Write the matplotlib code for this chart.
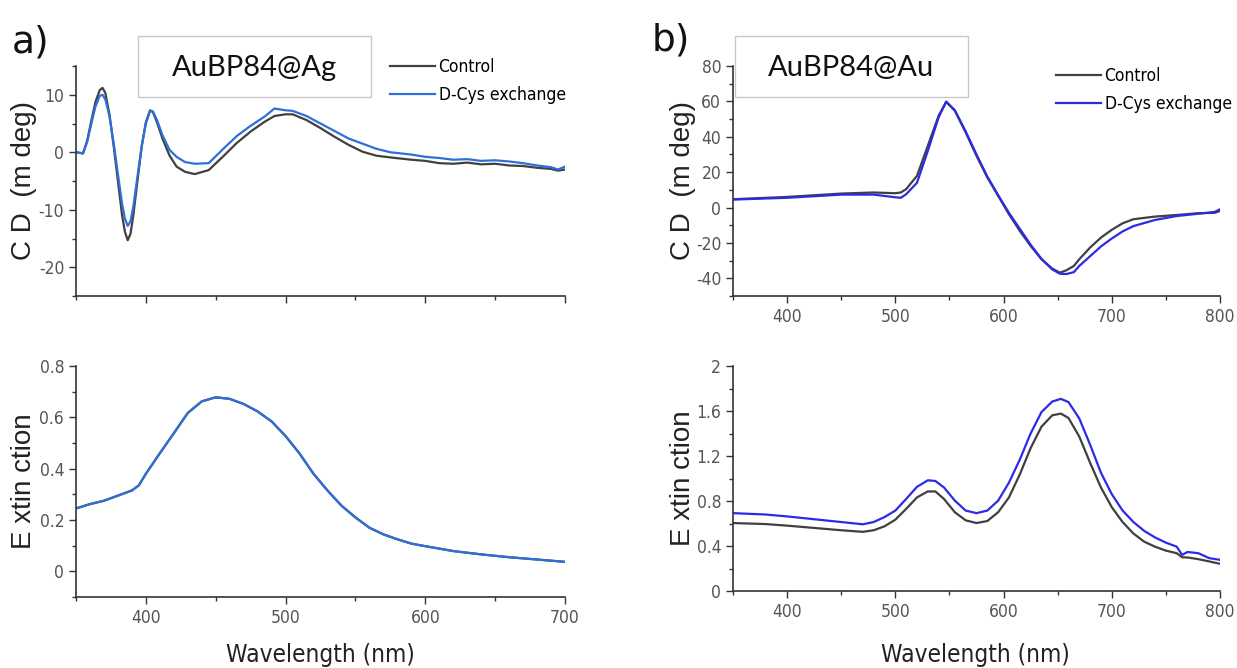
import matplotlib
matplotlib.use("Agg")
import matplotlib.pyplot as plt
from matplotlib.patches import Rectangle
from matplotlib.ticker import AutoMinorLocator

plt.rcParams["axes.unicode_minus"] = False

# ---- data ----
# a) AuBP84@Ag  CD
wl_ag_cd = [350, 355, 358, 361, 364, 367, 369, 371, 374, 377, 380, 383, 385, 387, 389, 391,
            394, 397, 400, 403, 405, 408, 412, 417, 422, 428, 435, 445, 455, 465, 475, 485,
            492, 500, 505, 515, 525, 535, 545, 555, 565, 575, 590, 600, 610, 620, 630, 640,
            650, 660, 670, 680, 690, 695, 700]
cd_ag_control = [0, -0.2, 2.0, 5.5, 8.8, 10.8, 11.2, 10.3, 6.5, 1.0, -5.0, -11.0, -13.8, -15.3,
                 -14.2, -11.0, -5.0, 1.0, 5.2, 7.3, 7.0, 5.2, 2.3, -0.6, -2.5, -3.4, -3.8, -3.1,
                 -0.8, 1.6, 3.6, 5.3, 6.3, 6.6, 6.6, 5.6, 4.2, 2.7, 1.3, 0.1, -0.6, -0.9, -1.3,
                 -1.5, -1.9, -2.0, -1.8, -2.1, -2.0, -2.3, -2.4, -2.7, -2.9, -3.2, -3.0]
cd_ag_dcys = [0, -0.2, 1.8, 5.0, 8.0, 9.8, 10.0, 9.2, 6.2, 1.5, -3.8, -9.0, -11.5, -12.8,
              -12.0, -9.5, -4.2, 1.0, 5.0, 7.2, 7.1, 5.6, 2.9, 0.4, -0.8, -1.7, -2.0, -1.9,
              0.5, 2.8, 4.6, 6.2, 7.6, 7.3, 7.2, 6.3, 5.0, 3.7, 2.4, 1.5, 0.6, 0.0, -0.4,
              -0.8, -1.0, -1.3, -1.2, -1.5, -1.4, -1.6, -1.9, -2.3, -2.6, -3.0, -2.5]

# a) AuBP84@Ag  extinction
wl_ag_ext = [350, 360, 370, 380, 390, 395, 400, 410, 420, 430, 440, 450, 460, 470, 480,
             490, 500, 510, 520, 530, 540, 550, 560, 570, 580, 590, 600, 620, 640, 660,
             680, 700]
ext_ag_control = [0.245, 0.262, 0.275, 0.295, 0.315, 0.335, 0.38, 0.46, 0.538, 0.617, 0.662,
                  0.678, 0.672, 0.652, 0.623, 0.584, 0.527, 0.459, 0.38, 0.315, 0.256, 0.21,
                  0.17, 0.144, 0.125, 0.108, 0.098, 0.079, 0.066, 0.055, 0.046, 0.037]
ext_ag_dcys = [0.245, 0.262, 0.275, 0.295, 0.315, 0.335, 0.38, 0.46, 0.538, 0.617, 0.662,
               0.678, 0.672, 0.652, 0.623, 0.584, 0.527, 0.459, 0.38, 0.315, 0.256, 0.21,
               0.17, 0.144, 0.125, 0.108, 0.098, 0.079, 0.066, 0.055, 0.046, 0.037]

# b) AuBP84@Au  CD
wl_au_cd = [350, 400, 450, 480, 500, 505, 510, 520, 530, 540, 547, 555, 565, 575, 585,
            595, 605, 615, 625, 635, 645, 652, 658, 665, 670, 680, 690, 700, 710, 720,
            740, 760, 780, 795, 800]
cd_au_control = [4.7, 6.0, 7.9, 8.5, 8.1, 8.5, 10.4, 17.9, 34.9, 51.9, 59.8, 54.7, 42.5, 29.2, 17.0,
                 6.6, -3.8, -13.2, -21.7, -29.2, -34.5, -36.8, -35.5, -33.0, -29.2, -22.6, -17.0,
                 -12.6, -8.9, -6.6, -5.1, -4.2, -3.2, -3.0, -1.9]
cd_au_dcys = [4.5, 5.5, 7.3, 7.3, 5.8, 5.5, 7.5, 14.0, 32.0, 51.0, 59.8, 55.0, 43.0, 30.0, 17.5,
              7.0, -3.0, -12.0, -21.0, -29.0, -35.0, -37.4, -37.6, -36.5, -33.0, -27.5, -22.0,
              -17.5, -13.5, -10.5, -7.0, -4.8, -3.5, -2.5, -1.0]

# b) AuBP84@Au  extinction
wl_au_ext = [350, 380, 400, 450, 470, 480, 490, 500, 510, 520, 530, 537, 545, 555, 565,
             575, 585, 595, 605, 615, 625, 635, 645, 653, 660, 670, 680, 690, 700, 710,
             720, 730, 740, 750, 760, 765, 770, 780, 790, 800]
ext_au_control = [0.604, 0.595, 0.581, 0.540, 0.526, 0.540, 0.575, 0.634, 0.73, 0.832, 0.885,
                  0.885, 0.818, 0.70, 0.628, 0.604, 0.622, 0.70, 0.832, 1.036, 1.27, 1.46,
                  1.562, 1.577, 1.538, 1.372, 1.139, 0.92, 0.745, 0.613, 0.511, 0.438, 0.394,
                  0.359, 0.336, 0.30, 0.298, 0.283, 0.263, 0.242]
ext_au_dcys = [0.692, 0.68, 0.663, 0.613, 0.593, 0.613, 0.657, 0.715, 0.818, 0.926, 0.984,
               0.978, 0.92, 0.803, 0.715, 0.692, 0.715, 0.803, 0.964, 1.168, 1.40, 1.59,
               1.684, 1.708, 1.679, 1.533, 1.30, 1.051, 0.861, 0.715, 0.613, 0.534, 0.476,
               0.43, 0.394, 0.321, 0.347, 0.336, 0.292, 0.277]

legend_labels = ["Control", "D-Cys exchange"]
panel_titles = ["AuBP84@Ag", "AuBP84@Au"]

narrow = dict(family="DejaVu Sans", stretch="condensed")
gray = "#404040"
blue_ag = "#2f6fd8"
blue_au = "#2b2be6"
tick_col = "#555555"

fig = plt.figure(figsize=(12.37, 6.68), dpi=100)
W, H = 1237, 668


def px_axes(left, top, right, bottom):
    return fig.add_axes([left / W, 1 - bottom / H, (right - left) / W, (bottom - top) / H])


def style(ax, xlim, ylim, yticks, xticks):
    ax.set_xlim(*xlim)
    ax.set_ylim(*ylim)
    for s in ["top", "right"]:
        ax.spines[s].set_visible(False)
    for s in ["left", "bottom"]:
        ax.spines[s].set_color("#333333")
        ax.spines[s].set_linewidth(1.2)
    ax.set_xticks(xticks)
    ax.set_yticks(yticks)
    ax.set_yticklabels(["%g" % v for v in yticks], **narrow)
    ax.set_xticklabels(["%g" % v for v in xticks], **narrow)
    ax.xaxis.set_minor_locator(AutoMinorLocator(2))
    ax.yaxis.set_minor_locator(AutoMinorLocator(2))
    ax.tick_params(which="major", direction="out", length=5, width=1, color="#333333",
                   labelsize=12.5, labelcolor=tick_col)
    ax.tick_params(which="minor", direction="out", length=3, width=1, color="#333333")


ylab_kw = dict(fontsize=20, color="#222222", family="Liberation Sans")
leg_kw = dict(frameon=False, borderpad=0, borderaxespad=0, handlelength=2.6, handletextpad=0.2,
              labelspacing=0.6, prop={"family": "DejaVu Sans", "stretch": "condensed", "size": 12.5})

# a) top
ax1 = px_axes(76, 66, 565, 296)
ax1.plot(wl_ag_cd, cd_ag_control, color=gray, lw=1.6, label=legend_labels[0])
ax1.plot(wl_ag_cd, cd_ag_dcys, color=blue_ag, lw=1.6, label=legend_labels[1])
style(ax1, (350, 700), (-25, 15), [-20, -10, 0, 10], [400, 500, 600, 700])
ax1.set_xticklabels([])
ax1.set_ylabel("C D  (m deg)", **ylab_kw)
ax1.yaxis.set_label_coords(-0.08, 0.5)
ax1.legend(loc="upper left", bbox_to_anchor=(390 / W, 1 - 58 / H), bbox_transform=fig.transFigure,
           **leg_kw)

# a) bottom
ax2 = px_axes(76, 366, 565, 597)
ax2.plot(wl_ag_ext, ext_ag_control, color=gray, lw=1.6)
ax2.plot(wl_ag_ext, ext_ag_dcys, color=blue_ag, lw=1.6)
style(ax2, (350, 700), (-0.1, 0.8), [0, 0.2, 0.4, 0.6, 0.8], [400, 500, 600, 700])
ax2.set_ylabel("E xtin ction", **ylab_kw)
ax2.yaxis.set_label_coords(-0.08, 0.5)

# b) top
ax3 = px_axes(733, 66, 1220, 296)
ax3.plot(wl_au_cd, cd_au_control, color=gray, lw=1.6, label=legend_labels[0])
ax3.plot(wl_au_cd, cd_au_dcys, color=blue_au, lw=1.6, label=legend_labels[1])
style(ax3, (350, 800), (-50, 80), [-40, -20, 0, 20, 40, 60, 80], [400, 500, 600, 700, 800])
ax3.set_ylabel("C D  (m deg)", **ylab_kw)
ax3.yaxis.set_label_coords(-0.075, 0.5)
ax3.legend(loc="upper left", bbox_to_anchor=(1056 / W, 1 - 67 / H), bbox_transform=fig.transFigure,
           **leg_kw)

# b) bottom
ax4 = px_axes(733, 366, 1220, 591)
ax4.plot(wl_au_ext, ext_au_control, color=gray, lw=1.6)
ax4.plot(wl_au_ext, ext_au_dcys, color=blue_au, lw=1.6)
style(ax4, (350, 800), (0, 2), [0, 0.4, 0.8, 1.2, 1.6, 2], [400, 500, 600, 700, 800])
ax4.set_ylabel("E xtin ction", **ylab_kw)
ax4.yaxis.set_label_coords(-0.075, 0.5)

# x labels
for xc in [320, 975]:
    fig.text(xc / W, 1 - 655 / H, "Wavelength (nm)", ha="center", va="center",
             fontsize=17.5, color="#222222", **narrow)

# panel letters
fig.text(12 / W, 1 - 42 / H, "a)", ha="left", va="center", fontsize=27, color="#111111")
fig.text(652 / W, 1 - 40 / H, "b)", ha="left", va="center", fontsize=27, color="#111111")

# title boxes
for x0, title in [(138, panel_titles[0]), (735, panel_titles[1])]:
    fig.patches.append(Rectangle((x0 / W, 1 - 97 / H), 233 / W, 61 / H, transform=fig.transFigure,
                                 facecolor="white", edgecolor="#c8c8c8", lw=1))
    fig.text((x0 + 116) / W, 1 - 68 / H, title, ha="center", va="center", fontsize=21,
             family=["Lato", "DejaVu Sans"], color="#111111")

fig.savefig("out.png", dpi=100)
